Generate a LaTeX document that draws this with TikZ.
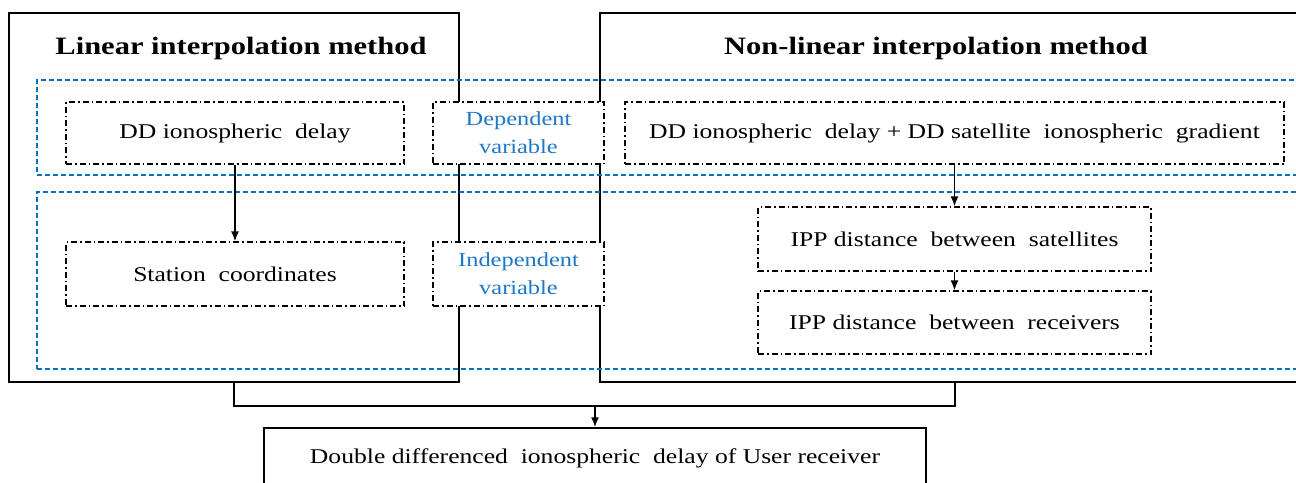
\documentclass[tikz,border=0pt]{standalone}
\usepackage{fontspec}
\setmainfont{Liberation Serif}[FakeStretch=1.22]
\usetikzlibrary{arrows.meta}
\definecolor{myblue}{RGB}{0,112,192}
\definecolor{txtblue}{RGB}{30,120,200}
\tikzset{
  bigbox/.style={draw=black, line width=1.4pt, fill=none, inner sep=0pt},
  bluebox/.style={draw=myblue, line width=1.8pt, dash pattern=on 5pt off 3pt, inner sep=0pt},
  dashbox/.style={draw=black, line width=1.1pt, dash pattern=on 6pt off 3pt on 1.5pt off 3pt, fill=white, inner sep=0pt, font=\fontsize{21}{24}\selectfont},
  varbox/.style={dashbox, text=txtblue, align=center, font=\fontsize{20}{28}\selectfont},
  titletext/.style={font=\bfseries\fontsize{25}{28}\selectfont, inner sep=0pt},
  conn/.style={draw=black, line width=1.7pt},
  arr/.style={conn, -{Latex[length=10pt,width=8pt]}}
}
\begin{document}
\begin{tikzpicture}[x=1pt,y=-1pt]
\useasboundingbox (0,0) rectangle (1296,482);
\begin{scope}
\clip (0,0) rectangle (1296,482);
% big boxes
\node[bigbox, minimum width=450pt, minimum height=369pt] (leftbox) at (234,197.5) {};
\node[bigbox, minimum width=710pt, minimum height=369pt] (rightbox) at (955,197.5) {};
\node[titletext] (ltitle) at (241,48) {Linear interpolation method};
\node[titletext] (rtitle) at (936,48) {Non-linear interpolation method};
% blue dashed bands
\node[bluebox, minimum width=1273pt, minimum height=95pt] (band1) at (673.5,127.5) {};
\node[bluebox, minimum width=1273pt, minimum height=177pt] (band2) at (673.5,280.5) {};
% dash-dot boxes
\node[dashbox, minimum width=338pt, minimum height=62pt] (dd) at (235,133) {DD ionospheric\ \ delay};
\node[varbox, minimum width=171pt, minimum height=62pt] (dep) at (518.5,133) {Dependent\\variable};
\node[dashbox, minimum width=659pt, minimum height=62pt] (ddg) at (954.5,133) {DD ionospheric\ \ delay + DD satellite\ \ ionospheric\ \ gradient};
\node[dashbox, minimum width=338pt, minimum height=64pt] (sta) at (235,274) {Station\ \ coordinates};
\node[varbox, minimum width=171pt, minimum height=64pt] (indep) at (518.5,274) {Independent\\variable};
\node[dashbox, minimum width=393pt, minimum height=64pt] (ippsat) at (954.5,239) {IPP distance\ \ between\ \ satellites};
\node[dashbox, minimum width=393pt, minimum height=63pt] (ipprec) at (954.5,322.5) {IPP distance\ \ between\ \ receivers};
% bottom box
\node[bigbox, minimum width=662pt, minimum height=90pt] (bottom) at (595,473) {};
\node[font=\fontsize{21}{24}\selectfont, inner sep=0pt] (btext) at (595,458) {Double differenced\ \ ionospheric\ \ delay of User receiver};
% connectors
\draw[arr] (dd.south) -- (sta.north);
\draw[arr] (ddg.south) -- (ippsat.north);
\draw[arr] (ippsat.south) -- (ipprec.north);
\coordinate (j) at (595,406);
\draw[conn] (leftbox.south) |- (j) -| (rightbox.south);
\draw[arr] (j) -- (bottom.north);
\end{scope}
\end{tikzpicture}
\end{document}
